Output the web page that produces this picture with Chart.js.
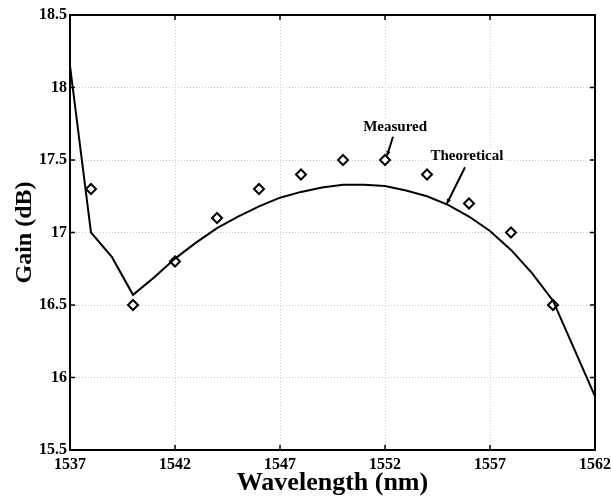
<!DOCTYPE html>
<html>
<head>
<meta charset="utf-8">
<script src="https://cdn.jsdelivr.net/npm/chart.js@4/dist/chart.umd.min.js"></script>
<style>
  html, body { margin: 0; padding: 0; background: #fff; }
  #box { width: 611px; height: 499px; }
</style>
</head>
<body>
<div id="box"><canvas id="gain"></canvas></div>
<script>
// Dados medidos (diamantes)
var measuredWl   = [1538, 1540, 1542, 1544, 1546, 1548, 1550, 1552, 1554, 1556, 1558, 1560];
var measuredGain = [17.3, 16.5, 16.8, 17.1, 17.3, 17.4, 17.5, 17.5, 17.4, 17.2, 17.0, 16.5];

// Curva teorica
var theoryWl   = [1537, 1538, 1539, 1540, 1541, 1542, 1543, 1544, 1545, 1546, 1547, 1548, 1549,
                  1550, 1551, 1552, 1553, 1554, 1555, 1556, 1557, 1558, 1559, 1560, 1562];
var theoryGain = [18.15, 17.0, 16.83, 16.57, 16.69, 16.82, 16.93, 17.03, 17.11, 17.18, 17.24, 17.28, 17.31,
                  17.33, 17.33, 17.32, 17.29, 17.25, 17.19, 17.11, 17.01, 16.88, 16.72, 16.53, 15.87];

// Ticks
var xTicks = [1537, 1542, 1547, 1552, 1557, 1562];
var yTicks = [15.5, 16, 16.5, 17, 17.5, 18, 18.5];

// Anotacoes (coordenadas em dados)
var labelText = ["Measured", "Theoretical"];
var labelAt   = [[1552.48, 17.73], [1555.9, 17.53]];
var arrowFrom = [[1552.38, 17.66], [1555.81, 17.45]];
var arrowTo   = [[1552.10, 17.53], [1554.95, 17.20]];

var serif = "'Liberation Serif', 'Times New Roman', serif";

function pairs(xs, ys) {
  return xs.map(function(x, i){ return {x: x, y: ys[i]}; });
}

// Moldura, ticks internos e setas
var framePlugin = {
  id: "frame",
  afterDraw: function(chart) {
    var ctx = chart.ctx, a = chart.chartArea;
    var sx = chart.scales.x, sy = chart.scales.y;
    ctx.save();
    ctx.strokeStyle = "#000";
    ctx.lineWidth = 2;
    ctx.strokeRect(a.left, a.top, a.right - a.left, a.bottom - a.top);
    ctx.lineWidth = 1.5;
    ctx.beginPath();
    xTicks.forEach(function(v){
      var p = sx.getPixelForValue(v);
      ctx.moveTo(p, a.bottom); ctx.lineTo(p, a.bottom - 5);
      ctx.moveTo(p, a.top);    ctx.lineTo(p, a.top + 5);
    });
    yTicks.forEach(function(v){
      var p = sy.getPixelForValue(v);
      ctx.moveTo(a.left, p);  ctx.lineTo(a.left + 5, p);
      ctx.moveTo(a.right, p); ctx.lineTo(a.right - 5, p);
    });
    ctx.stroke();

    // textos e setas
    ctx.fillStyle = "#000";
    ctx.font = "bold 15px " + serif;
    ctx.textAlign = "center";
    ctx.textBaseline = "middle";
    for (var i = 0; i < labelText.length; i++) {
      var tx = sx.getPixelForValue(labelAt[i][0]);
      var ty = sy.getPixelForValue(labelAt[i][1]);
      var w = ctx.measureText(labelText[i]).width;
      ctx.fillStyle = "#fff";
      ctx.fillRect(tx - w/2 - 2, ty - 8, w + 4, 16);
      ctx.fillStyle = "#000";
      ctx.fillText(labelText[i], tx, ty);

      var x1 = sx.getPixelForValue(arrowFrom[i][0]), y1 = sy.getPixelForValue(arrowFrom[i][1]);
      var x2 = sx.getPixelForValue(arrowTo[i][0]),   y2 = sy.getPixelForValue(arrowTo[i][1]);
      ctx.lineWidth = 2;
      ctx.beginPath();
      ctx.moveTo(x1, y1); ctx.lineTo(x2, y2);
      ctx.stroke();
      var ang = Math.atan2(y2 - y1, x2 - x1);
      ctx.beginPath();
      ctx.moveTo(x2, y2);
      ctx.lineTo(x2 - 5 * Math.cos(ang - 0.45), y2 - 5 * Math.sin(ang - 0.45));
      ctx.lineTo(x2 - 5 * Math.cos(ang + 0.45), y2 - 5 * Math.sin(ang + 0.45));
      ctx.closePath();
      ctx.fill();
    }
    ctx.restore();
  }
};

var data = {
  type: "scatter",
  data: {
    datasets: [{
      label: "Theoretical",
      type: "line",
      data: pairs(theoryWl, theoryGain),
      borderColor: "#000",
      borderWidth: 2,
      pointRadius: 0,
      tension: 0,
      fill: false
    }, {
      label: "Measured",
      data: pairs(measuredWl, measuredGain),
      pointStyle: "rectRot",
      pointRadius: 5,
      pointBorderWidth: 2,
      pointBorderColor: "#000",
      pointBackgroundColor: "#fff",
      borderColor: "#000",
      backgroundColor: "#fff"
    }]
  },
  options: {
    responsive: false,
    animation: false,
    layout: { padding: { left: 0, top: 15, right: 16, bottom: 0 } },
    plugins: { legend: { display: false }, tooltip: { enabled: false } },
    scales: {
      x: {
        type: "linear",
        min: 1537, max: 1562,
        afterBuildTicks: function(s){ s.ticks = xTicks.map(function(v){ return {value: v}; }); },
        afterFit: function(s){ s.height = 49; s.paddingLeft = 0; s.paddingRight = 0; },
        grid: { color: "#c8c8c8", borderDash: [1, 2], drawTicks: false },
        border: { display: false, dash: [1, 2] },
        ticks: { color: "#000", padding: 5, maxRotation: 0, font: { family: serif, size: 16, weight: "bold" },
                 callback: function(v){ return String(v); } },
        title: { display: true, text: "Wavelength (nm)", color: "#000", padding: { top: 0, bottom: 0 },
                 font: { family: serif, size: 26, weight: "bold" } }
      },
      y: {
        min: 15.5, max: 18.5,
        afterBuildTicks: function(s){ s.ticks = yTicks.map(function(v){ return {value: v}; }); },
        afterFit: function(s){ s.width = 70; s.paddingTop = 0; s.paddingBottom = 0; },
        grid: { color: "#c8c8c8", drawTicks: false },
        border: { display: false, dash: [1, 2] },
        ticks: { color: "#000", padding: 3, font: { family: serif, size: 16, weight: "bold" },
                 callback: function(v){ return String(v); } },
        title: { display: true, text: "Gain (dB)", color: "#000", padding: { top: 10, bottom: 0 },
                 font: { family: serif, size: 24, weight: "bold" } }
      }
    }
  },
  plugins: [framePlugin]
};

var canvas = document.getElementById("gain");
canvas.width = 611;
canvas.height = 499;
const MyChart = new Chart(canvas, data);
</script>
</body>
</html>
